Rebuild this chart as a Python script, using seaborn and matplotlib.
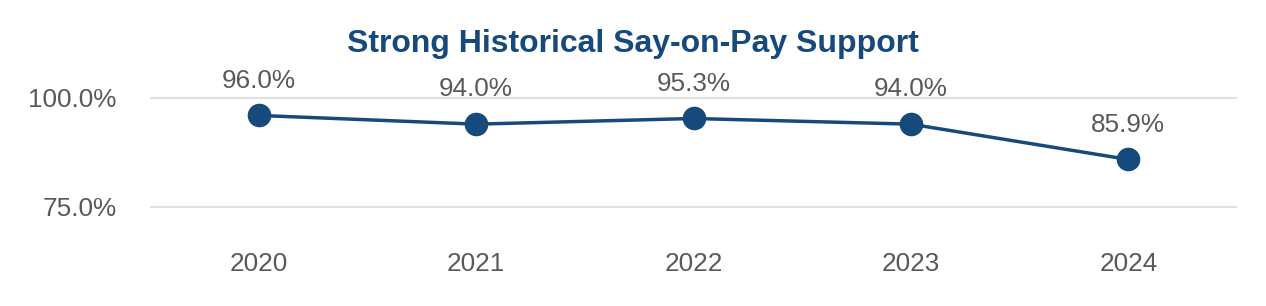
import matplotlib
matplotlib.use("Agg")
import matplotlib.pyplot as plt
import seaborn as sns
import pandas as pd

years = ["2020", "2021", "2022", "2023", "2024"]
support = [96.0, 94.0, 95.3, 94.0, 85.9]
y_ticks = [75.0, 100.0]
title = "Strong Historical Say-on-Pay Support"

LINE = "#174A7C"
GRAY = "#595959"
GRID = "#E0E0E0"

sns.set_theme(style="white")
plt.rcParams["font.family"] = ["Liberation Sans", "DejaVu Sans"]

df = pd.DataFrame({"year": years, "support": support})

fig = plt.figure(figsize=(12.66, 3.06), dpi=100)
ax = fig.add_axes([150 / 1266, 0.2523, (1237 - 150) / 1266, 0.751 - 0.2523])

sns.lineplot(data=df, x="year", y="support", ax=ax, color=LINE, linewidth=2.5,
             marker="o", markersize=17, markeredgewidth=0, sort=False)

for i, v in enumerate(support):
    ax.annotate(f"{v:.1f}%", (i, v), xytext=(0, 25), textcoords="offset points",
                ha="center", va="center", fontsize=18.8, color=GRAY)

ax.set_xlim(-0.5, len(years) - 0.5)
ax.set_ylim(70, 105)
ax.set_yticks(y_ticks)
ax.set_yticklabels([f"{t:.1f}%" for t in y_ticks])
ax.grid(axis="y", color=GRID, linewidth=1.5)
ax.grid(axis="x", visible=False)
ax.set_axisbelow(True)
for s in ax.spines.values():
    s.set_visible(False)
ax.tick_params(axis="both", length=0, labelsize=18.8, labelcolor=GRAY)
ax.tick_params(axis="y", pad=24)
ax.tick_params(axis="x", pad=17)
ax.set_xlabel("")
ax.set_ylabel("")

fig.text(0.5, 1 - 44 / 306, title, ha="center", va="center", fontsize=23,
         fontweight="bold", color=LINE)

fig.savefig("out.png", dpi=100, facecolor="white")
